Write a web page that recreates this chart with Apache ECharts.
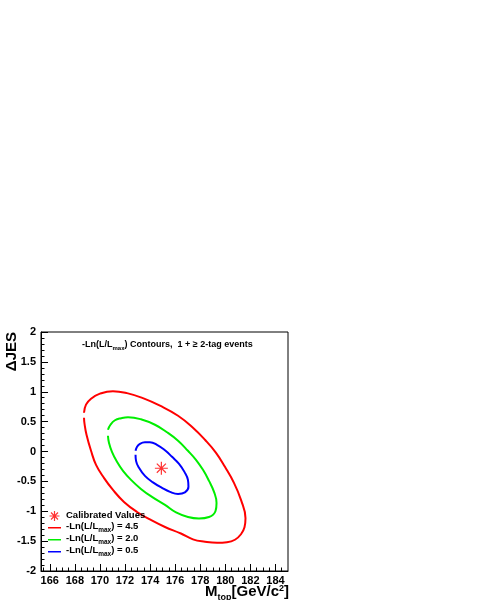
<!DOCTYPE html>
<html>
<head>
<meta charset="utf-8">
<script src="https://cdn.jsdelivr.net/npm/echarts@6/dist/echarts.min.js"></script>
<style>
html,body{margin:0;padding:0;background:#fff}
#main{width:479px;height:600px}
</style>
</head>
<body>
<div id="main"></div>
<script>
// axis ticks
var xTicks = [166, 168, 170, 172, 174, 176, 178, 180, 182, 184];
var xRange = [165.3, 185];
var yRange = [-2, 2];

// fitted point
var calibrated = [[174.9, -0.28]];

// contour names / colours
var contourNames = ['-Ln(L/Lmax) = 4.5', '-Ln(L/Lmax) = 2.0', '-Ln(L/Lmax) = 0.5'];
var contourColors = ['#ff0000', '#00ee00', '#0000ff'];

// -Ln(L/Lmax) = 4.5
var contour45 = [
	[168.73, 0.649], [168.89, 0.784], [169.29, 0.884], [170.00, 0.968], [171.04, 1.010],
	[172.16, 0.977], [173.43, 0.893], [174.79, 0.767], [176.23, 0.599], [177.42, 0.398],
	[178.38, 0.196], [179.26, -0.022], [179.97, -0.257], [180.69, -0.525], [181.25, -0.810],
	[181.61, -1.116], [181.53, -1.267], [181.25, -1.385], [180.77, -1.477], [180.13, -1.519],
	[179.34, -1.528], [178.38, -1.510], [177.42, -1.470], [176.46, -1.372], [175.19, -1.263],
	[174.07, -1.146], [172.96, -1.012], [171.92, -0.844], [171.04, -0.643], [170.32, -0.441],
	[169.69, -0.223], [169.29, 0.012], [168.93, 0.280], [168.77, 0.465], [168.73, 0.565]
];
// -Ln(L/Lmax) = 2.0
var contour20 = [
	[170.64, 0.364], [170.84, 0.448], [171.20, 0.523], [171.68, 0.557], [172.24, 0.574],
	[173.27, 0.540], [174.39, 0.448], [175.35, 0.322], [176.23, 0.180], [177.02, 0.012],
	[177.66, -0.139], [178.22, -0.307], [178.70, -0.492], [179.10, -0.676], [179.30, -0.861],
	[179.22, -0.995], [178.70, -1.096], [177.90, -1.121], [177.02, -1.096], [176.07, -1.020],
	[175.19, -0.894], [174.15, -0.760], [173.27, -0.626], [172.48, -0.475], [171.84, -0.324],
	[171.36, -0.173], [170.96, -0.005], [170.72, 0.146], [170.64, 0.263]
];
// -Ln(L/Lmax) = 0.5
var contour05 = [
	[172.84, 0.012], [172.96, 0.079], [173.19, 0.129], [173.59, 0.154], [173.99, 0.154],
	[174.55, 0.112], [175.19, 0.020], [175.75, -0.089], [176.31, -0.206], [176.74, -0.341],
	[177.02, -0.475], [177.06, -0.592], [176.78, -0.685], [176.23, -0.710], [175.59, -0.676],
	[174.95, -0.609], [174.23, -0.517], [173.59, -0.408], [173.12, -0.273], [172.88, -0.156],
	[172.84, -0.055]
];

var FONT = 'Liberation Sans';
var starPath = 'path://M0 6H12M6 0V12M1.8 1.8L10.2 10.2M10.2 1.8L1.8 10.2';
// short legend line, corner specks keep the box 20x10
var linePath = 'path://M0 0L0.01 0L0 0.01Z M0 4H20V6.4H0Z M20 10L19.99 10L20 9.99Z';

var minorTicks = [];
for (var v = 165.5; v < xRange[1]; v += 0.5) {
	if (xTicks.indexOf(v) < 0) minorTicks.push(v);
}

var richText = {
	n: {fontFamily: FONT, fontSize: 9.5, fontWeight: 'bold', color: '#000', verticalAlign: 'top', lineHeight: 12},
	s: {fontFamily: FONT, fontSize: 6.5, fontWeight: 'bold', color: '#000', verticalAlign: 'top', lineHeight: 7, padding: [5, 0, 0, 0]}
};
var toRich = function (name) {
	if (name.indexOf('Lmax') < 0) return '{n|' + name + '}';
	var parts = name.split('Lmax');
	return '{n|' + parts[0] + 'L}{s|max}{n|' + parts[1] + '}';
};

var lineSeries = [contour45, contour20, contour05].map(function (d, i) {
	return {
		name: contourNames[i],
		type: 'line',
		data: d,
		symbol: 'none',
		smooth: 0.45,
		lineStyle: {color: contourColors[i], width: 2},
		itemStyle: {color: contourColors[i]},
		z: 3
	};
});

var legendData = [{name: 'Calibrated Values', icon: starPath,
	itemStyle: {color: 'rgba(0,0,0,0)', borderColor: '#ff0000', borderWidth: 1.2}}];
contourNames.forEach(function (n, i) {
	legendData.push({name: n, icon: linePath, itemStyle: {color: contourColors[i], borderWidth: 0}});
});

var chart = echarts.init(document.getElementById('main'));
var option = {
	animation: false,
	backgroundColor: '#fff',
	grid: {left: 41, right: 191, top: 332, bottom: 29, show: true, borderColor: '#000', borderWidth: 1, backgroundColor: '#fff'},
	title: {
		text: '{t|-Ln(L/L}{ts|max}{t|) Contours,  1 + \u2265 2-tag events}',
		left: 82, top: 340, padding: 0,
		textStyle: {
			rich: {
				t: {fontFamily: FONT, fontSize: 9, fontWeight: 'bold', color: '#000', verticalAlign: 'top', lineHeight: 11},
				ts: {fontFamily: FONT, fontSize: 6, fontWeight: 'bold', color: '#000', verticalAlign: 'top', lineHeight: 7, padding: [5, 0, 0, 0]}
			}
		}
	},
	legend: {
		orient: 'vertical',
		left: 48, top: 510, padding: 0,
		itemWidth: 13, itemHeight: 10, itemGap: 0,
		selectedMode: false,
		formatter: toRich,
		textStyle: {rich: richText},
		data: legendData
	},
	xAxis: [{
		type: 'value', min: xRange[0], max: xRange[1], position: 'bottom',
		axisLine: {show: true, onZero: false, lineStyle: {color: '#000'}},
		axisTick: {show: true, inside: true, length: 7, customValues: xTicks, lineStyle: {color: '#000'}},
		axisLabel: {customValues: xTicks, color: '#000', fontFamily: FONT, fontSize: 11, fontWeight: 'bold', margin: 4},
		splitLine: {show: false}
	}, {
		type: 'value', min: xRange[0], max: xRange[1], position: 'bottom',
		axisLine: {show: false, onZero: false},
		axisTick: {show: true, inside: true, length: 3.5, customValues: minorTicks, lineStyle: {color: '#000'}},
		axisLabel: {show: false},
		splitLine: {show: false}
	}],
	yAxis: {
		type: 'value', min: yRange[0], max: yRange[1], interval: 0.5,
		axisLine: {show: true, onZero: false, lineStyle: {color: '#000'}},
		axisTick: {show: true, inside: true, length: 7, lineStyle: {color: '#000'}},
		minorTick: {show: true, splitNumber: 5, length: 3.5, lineStyle: {color: '#000'}},
		axisLabel: {color: '#000', fontFamily: FONT, fontSize: 11, fontWeight: 'bold', margin: 5},
		splitLine: {show: false}
	},
	graphic: [{
		type: 'text', x: 12, y: 332, rotation: Math.PI / 2,
		style: {text: '\u0394JES', font: 'bold 15px ' + FONT, fill: '#000', align: 'right', verticalAlign: 'middle'}
	}, {
		type: 'text', right: 190, top: 584,
		style: {
			text: '{m|M}{sb|top}{m|[GeV/c}{sp|2}{m|]}',
			rich: {
				m: {fontFamily: FONT, fontSize: 15, fontWeight: 'bold', fill: '#000', verticalAlign: 'top', lineHeight: 17},
				sb: {fontFamily: FONT, fontSize: 9, fontWeight: 'bold', fill: '#000', verticalAlign: 'top', padding: [9, 0, 0, 0]},
				sp: {fontFamily: FONT, fontSize: 9, fontWeight: 'bold', fill: '#000', verticalAlign: 'top', padding: [0, 0, 0, 0]}
			}
		}
	}],
	series: [{
		name: 'Calibrated Values',
		type: 'scatter',
		data: calibrated,
		symbol: starPath,
		symbolSize: 13,
		itemStyle: {color: 'rgba(0,0,0,0)', borderColor: '#ff0000', borderWidth: 1.2},
		z: 4
	}].concat(lineSeries)
};
chart.setOption(option);
</script>
</body>
</html>
